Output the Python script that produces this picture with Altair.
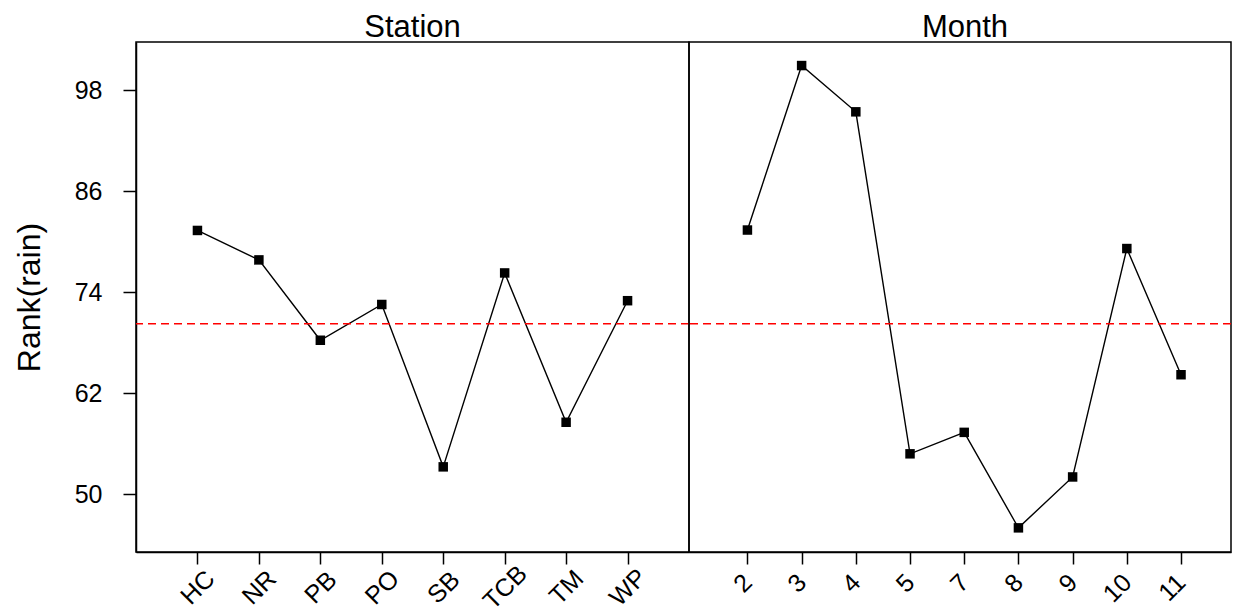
import altair as alt
import pandas as pd

stations = ["HC", "NR", "PB", "PO", "SB", "TCB", "TM", "WP"]
station_rank = [81.35, 77.85, 68.3, 72.55, 53.25, 76.3, 58.55, 73.0]
months = ["2", "3", "4", "5", "7", "8", "9", "10", "11"]
month_rank = [81.4, 100.95, 95.45, 54.8, 57.35, 46.0, 52.05, 79.2, 64.2]
overall_mean = 70.25
y_ticks = [50, 62, 74, 86, 98]
y_domain = [43.13, 103.75]

FONT = "Liberation Sans"

df_s = pd.DataFrame({"cat": stations, "rank": station_rank})
df_m = pd.DataFrame({"cat": months, "rank": month_rank})
df_mean = pd.DataFrame({"rank": [overall_mean]})


def panel(df, cats, title, width, pad, align, show_y, lab_align, lab_pad, title_dx):
    if show_y:
        yaxis = alt.Axis(values=y_ticks, title="Rank(rain)", grid=False,
                         labelFontSize=25, labelFont=FONT, labelColor="black",
                         titleFontSize=32, titleFont=FONT, titleFontWeight="normal",
                         titleColor="black", tickSize=13, labelPadding=21,
                         titlePadding=28, tickColor="black", tickWidth=1.5,
                         domainColor="black", domainWidth=1.5)
    else:
        yaxis = None
    x = alt.X("cat:N", sort=cats,
              scale=alt.Scale(type="point", padding=pad, align=align),
              axis=alt.Axis(title=None, labelAngle=315, labelAlign=lab_align,
                            labelBaseline="middle", labelPadding=lab_pad,
                            tickSize=12,
                            labelFontSize=25, labelFont=FONT, labelColor="black",
                            tickColor="black", domainColor="black", tickWidth=1.5,
                            domainWidth=1.5, grid=False))
    yscale = alt.Scale(domain=y_domain, nice=False, zero=False)
    y = alt.Y("rank:Q", scale=yscale, axis=yaxis)
    base = alt.Chart(df)
    line = base.mark_line(color="black", strokeWidth=1.4).encode(x=x, y=y)
    rule = alt.Chart(df_mean).mark_rule(
        color="red", strokeDash=[8, 5], strokeWidth=1.5).encode(
        y=alt.Y("rank:Q", scale=yscale, axis=yaxis))
    pts = base.mark_point(shape="square", filled=True, size=90, color="black",
                          opacity=1).encode(x=x, y=y)
    return alt.layer(line, rule, pts).properties(
        width=width, height=510,
        title=alt.TitleParams(title, fontSize=31, font=FONT, fontWeight="normal",
                              offset=-2, anchor="middle", color="black",
                              dx=title_dx))


left = panel(df_s, stations, "Station", 553, 1.16, 0.5, True, "center", 23, 0)
right = panel(df_m, months, "Month", 542, 1.218, 0.539, False, "right", 14, 5)

chart = alt.hconcat(left, right, spacing=0, bounds="flush").properties(
    padding={"left": 4, "top": 3, "right": 0, "bottom": 0}
).configure_view(stroke="black", strokeWidth=1.5)

chart.save("out.html", embed_options={"renderer": "svg", "actions": False})
